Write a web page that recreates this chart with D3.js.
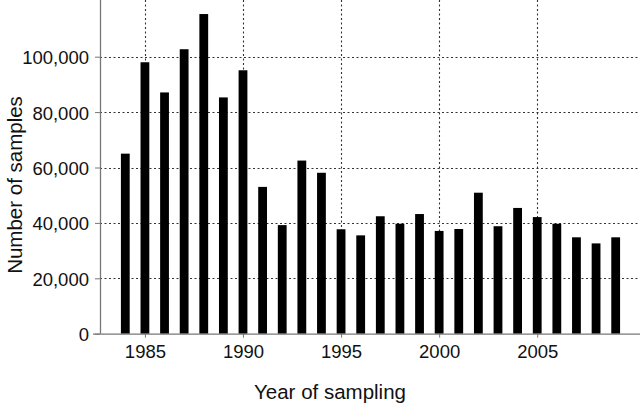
<!DOCTYPE html>
<html>
<head>
<meta charset="utf-8">
<script src="https://cdn.jsdelivr.net/npm/d3@7"></script>
<style>
  html, body { margin: 0; padding: 0; background: #fff; }
  svg { display: block; }
  text { font-family: "Liberation Sans", Arial, sans-serif; fill: #111; }
</style>
</head>
<body>
<script>
const years = [1984,1985,1986,1987,1988,1989,1990,1991,1992,1993,1994,1995,1996,1997,1998,1999,2000,2001,2002,2003,2004,2005,2006,2007,2008,2009];
const samples = [65000,98000,87100,102700,115400,85300,95100,53000,39200,62500,58100,37700,35500,42400,39700,43200,37100,37800,50900,38800,45400,42100,39700,34800,32600,34800];
const xTicks = [1985,1990,1995,2000,2005];
const yTicks = [0,20000,40000,60000,80000,100000];
const xTitle = "Year of sampling";
const yTitle = "Number of samples";

const W = 640, H = 405;
const mLeft = 100, mRight = 640, mTop = 0, mBottom = 333.7;

const svg = d3.select("body").append("svg").attr("width", W).attr("height", H);

const x = d3.scaleLinear().domain([1982.71, 2010.24]).range([mLeft, mRight]);
const y = d3.scaleLinear().domain([0, 120470]).range([mBottom, mTop]);
const barW = 8.8;

// gridlines
const grid = svg.append("g").attr("stroke", "#333").attr("stroke-width", 1.1).attr("stroke-dasharray", "2,2.5");
grid.selectAll("line.h").data(yTicks.filter(d => d > 0)).join("line")
  .attr("x1", mLeft).attr("x2", mRight)
  .attr("y1", d => Math.round(y(d)) + 0.5).attr("y2", d => Math.round(y(d)) + 0.5);
grid.selectAll("line.v").data(xTicks).join("line")
  .attr("y1", mTop).attr("y2", mBottom)
  .attr("x1", d => Math.round(x(d)) + 0.5).attr("x2", d => Math.round(x(d)) + 0.5);

// bars
svg.append("g").selectAll("rect").data(years).join("rect")
  .attr("x", (d) => x(d) - barW / 2)
  .attr("width", barW)
  .attr("y", (d, i) => y(samples[i]))
  .attr("height", (d, i) => mBottom - y(samples[i]))
  .attr("fill", "#000");

// axes
const xAxis = d3.axisBottom(x).tickValues(xTicks).tickFormat(d3.format("d")).tickSize(4).tickPadding(6);
const gx = svg.append("g").attr("transform", `translate(0,${mBottom})`).call(xAxis);
gx.select(".domain").attr("d", `M93,0.5H${mRight}`).attr("stroke", "#777").attr("stroke-width", 1.3);
gx.selectAll(".tick line").attr("stroke", "#777");
gx.selectAll(".tick text").attr("font-size", 18.5).attr("font-family", "Liberation Sans, Arial, sans-serif").attr("fill", "#111").attr("dy", "0.79em");

const yAxis = d3.axisLeft(y).tickValues(yTicks).tickFormat(d3.format(",")).tickSize(5).tickPadding(6);
const gy = svg.append("g").attr("transform", `translate(${mLeft},0)`).call(yAxis);
gy.select(".domain").attr("d", `M0.5,${mBottom}V0`).attr("stroke", "#777").attr("stroke-width", 1.3);
gy.selectAll(".tick line").attr("stroke", "#777");
gy.selectAll(".tick text").attr("font-size", 18.5).attr("font-family", "Liberation Sans, Arial, sans-serif").attr("fill", "#111").attr("dy", "0.38em");

// titles
svg.append("text").attr("x", 330).attr("y", 399).attr("text-anchor", "middle")
  .attr("font-size", 20.5).text(xTitle);
svg.append("text").attr("transform", `translate(22,185) rotate(-90)`).attr("text-anchor", "middle")
  .attr("font-size", 20.5).text(yTitle);
</script>
</body>
</html>
